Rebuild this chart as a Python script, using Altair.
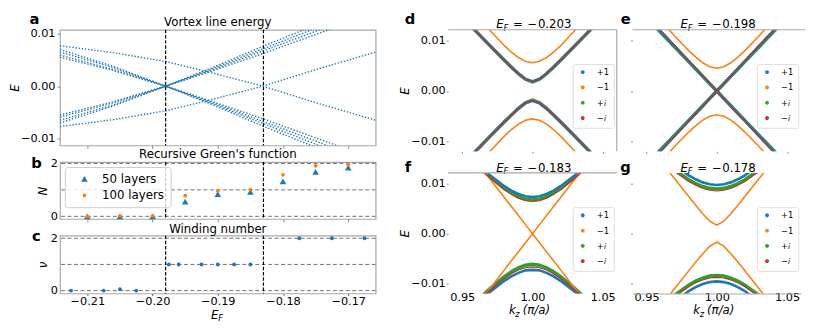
import altair as alt
import pandas as pd

BLUE, ORANGE, GREEN, RED = "#1f77b4", "#ff7f0e", "#2ca02c", "#d62728"
FRAME = "#a8a8a8"
FONT = "DejaVu Sans"
MINUS = "replace(datum.label, '-', '\u2212')"

# ---------------- panels a-c : shared E_F axis ----------------
EF_DOMAIN = [-0.2142, -0.1658]
EF_TICKS = [-0.21, -0.20, -0.19, -0.18, -0.17]
VLINES = [-0.198, -0.183]
HLINES = [0, 1, 2]

# a: vortex line energies, E read at these E_F positions
EF_A = [-0.2142, -0.2061, -0.198, -0.1911, -0.1831, -0.1751, -0.1658]
A_S1 = [0.0077, 0.0064, 0.0047, 0.0026, 0.0000, -0.0031, -0.0065]
A_S2 = [-0.0077, -0.0064, -0.0047, -0.0026, 0.0000, 0.0031, 0.0065]
A_D1 = [0.0070, 0.0038, 0.0, -0.0034, -0.0076, -0.0116, -0.0168]
A_D2 = [0.0065, 0.0036, 0.0, -0.0032, -0.0071, -0.0110, -0.0158]
A_D3 = [0.0059, 0.0032, 0.0, -0.0030, -0.0067, -0.0104, -0.0149]
A_D4 = [0.0055, 0.0030, 0.0, -0.0028, -0.0062, -0.0098, -0.0140]
A_U1 = [-0.0070, -0.0038, 0.0, 0.0034, 0.0076, 0.0116, 0.0168]
A_U2 = [-0.0065, -0.0036, 0.0, 0.0032, 0.0071, 0.0110, 0.0158]
A_U3 = [-0.0059, -0.0032, 0.0, 0.0030, 0.0067, 0.0104, 0.0149]
A_U4 = [-0.0055, -0.0030, 0.0, 0.0028, 0.0062, 0.0098, 0.0140]
A_LINES = {"s1": A_S1, "s2": A_S2, "d1": A_D1, "d2": A_D2, "d3": A_D3, "d4": A_D4,
           "u1": A_U1, "u2": A_U2, "u3": A_U3, "u4": A_U4}

# b: recursive Green's function
EF_B = [-0.21, -0.205, -0.20, -0.195, -0.19, -0.185, -0.18, -0.175, -0.17]
N_50 = [0.0, 0.0, 0.0, 0.56, 0.84, 0.92, 1.32, 1.68, 1.84]
N_100 = [0.0, 0.02, 0.02, 0.78, 0.96, 1.01, 1.57, 1.91, 1.96]

# c: winding number
EF_C = [-0.2125, -0.2075, -0.205, -0.2025, -0.1975, -0.196, -0.1925, -0.19,
        -0.1875, -0.185, -0.1775, -0.1725, -0.1675]
NU = [0, 0, 0.05, 0, 1, 1, 1, 1, 1, 1, 2, 2, 2]

# ---------------- panels d-g : bands near k_z = pi/a (E in units of 1e-3) ----------------
K = [0.94, 0.96, 0.97, 0.98, 0.985, 0.99, 0.995, 1.0, 1.005, 1.01, 1.015, 1.02, 1.03, 1.04, 1.06]
SERIES = ["+1", "\u22121", "+\U0001D456", "\u2212\U0001D456"]
COLORS = [BLUE, ORANGE, GREEN, RED]
WIDTHS = {SERIES[0]: 2.7, SERIES[1]: 1.6, SERIES[2]: 3.5, SERIES[3]: 1.1}
DRAW_ORDER = [SERIES[2], SERIES[0], SERIES[1], SERIES[3]]

D_BLUE_UP = [17.50, 11.75, 8.91, 6.10, 4.75, 3.47, 2.39, 1.90, 2.39, 3.47, 4.75, 6.10, 8.91, 11.75, 17.50]
D_BLUE_DN = [-17.50, -11.75, -8.91, -6.10, -4.75, -3.47, -2.39, -1.90, -2.39, -3.47, -4.75, -6.10, -8.91, -11.75, -17.50]
D_ORANGE_UP = [21.73, 15.08, 11.90, 8.96, 7.68, 6.60, 5.87, 5.60, 5.87, 6.60, 7.68, 8.96, 11.90, 15.08, 21.73]
D_ORANGE_DN = [-21.71, -15.04, -11.85, -8.90, -7.60, -6.52, -5.77, -5.50, -5.77, -6.52, -7.60, -8.90, -11.85, -15.04, -21.71]
D_GREEN_UP = [17.49, 11.74, 8.88, 6.07, 4.71, 3.41, 2.31, 1.80, 2.31, 3.41, 4.71, 6.07, 8.88, 11.74, 17.49]
D_GREEN_DN = [-17.49, -11.74, -8.88, -6.07, -4.71, -3.41, -2.31, -1.80, -2.31, -3.41, -4.71, -6.07, -8.88, -11.74, -17.49]
D_RED_UP = [17.50, 11.75, 8.89, 6.09, 4.73, 3.44, 2.35, 1.85, 2.35, 3.44, 4.73, 6.09, 8.89, 11.75, 17.50]
D_RED_DN = [-17.50, -11.75, -8.89, -6.09, -4.73, -3.44, -2.35, -1.85, -2.35, -3.44, -4.73, -6.09, -8.89, -11.75, -17.50]

E_BLUE_UP = [17.70, 11.80, 8.85, 5.90, 4.43, 2.95, 1.48, 0.00, 1.48, 2.95, 4.43, 5.90, 8.85, 11.80, 17.70]
E_BLUE_DN = [-17.70, -11.80, -8.85, -5.90, -4.43, -2.95, -1.48, 0.00, -1.48, -2.95, -4.43, -5.90, -8.85, -11.80, -17.70]
E_ORANGE_UP = [20.30, 13.95, 10.87, 7.99, 6.69, 5.58, 4.79, 4.50, 4.79, 5.58, 6.69, 7.99, 10.87, 13.95, 20.30]
E_ORANGE_DN = [-20.35, -14.01, -10.96, -8.10, -6.83, -5.74, -4.98, -4.70, -4.98, -5.74, -6.83, -8.10, -10.96, -14.01, -20.35]
E_GREEN_UP = [17.40, 11.60, 8.70, 5.80, 4.35, 2.90, 1.45, 0.00, 1.45, 2.90, 4.35, 5.80, 8.70, 11.60, 17.40]
E_GREEN_DN = [-17.40, -11.60, -8.70, -5.80, -4.35, -2.90, -1.45, 0.00, -1.45, -2.90, -4.35, -5.80, -8.70, -11.60, -17.40]
E_RED_UP = [18.00, 12.00, 9.00, 6.00, 4.50, 3.00, 1.50, 0.00, 1.50, 3.00, 4.50, 6.00, 9.00, 12.00, 18.00]
E_RED_DN = [-18.00, -12.00, -9.00, -6.00, -4.50, -3.00, -1.50, 0.00, -1.50, -3.00, -4.50, -6.00, -9.00, -12.00, -18.00]

F_BLUE_UP = [19.42, 14.05, 11.59, 9.45, 8.58, 7.89, 7.45, 7.30, 7.45, 7.89, 8.58, 9.45, 11.59, 14.05, 19.42]
F_BLUE_DN = [-19.39, -13.99, -11.53, -9.37, -8.49, -7.80, -7.29, -7.20, -7.29, -7.80, -8.49, -9.37, -11.53, -13.99, -19.39]
F_ORANGE_UP = [21.60, 14.40, 10.80, 7.20, 5.40, 3.60, 1.80, 0.00, 1.80, 3.60, 5.40, 7.20, 10.80, 14.40, 21.60]
F_ORANGE_DN = [-21.60, -14.40, -10.80, -7.20, -5.40, -3.60, -1.80, 0.00, -1.80, -3.60, -5.40, -7.20, -10.80, -14.40, -21.60]
F_GREEN_UP = [19.21, 13.74, 11.22, 8.99, 8.07, 7.34, 6.87, 6.70, 6.87, 7.34, 8.07, 8.99, 11.22, 13.74, 19.21]
F_GREEN_DN = [-19.01, -13.46, -10.87, -8.56, -7.58, -6.80, -6.28, -6.10, -6.28, -6.80, -7.58, -8.56, -10.87, -13.46, -19.01]
F_RED_UP = [19.10, 13.60, 11.04, 8.77, 7.82, 7.07, 6.57, 6.40, 6.57, 7.07, 7.82, 8.77, 11.04, 13.60, 19.10]
F_RED_DN = [-19.17, -13.70, -11.16, -8.92, -7.99, -7.25, -6.77, -6.60, -6.77, -7.25, -7.99, -8.92, -11.16, -13.70, -19.17]

G_BLUE_UP = [21.51, 16.06, 13.65, 11.62, 10.82, 10.21, 9.83, 9.70, 9.83, 10.21, 10.82, 11.62, 13.65, 16.06, 21.51]
G_BLUE_DN = [-21.42, -15.94, -13.51, -11.45, -10.64, -10.02, -9.63, -9.50, -9.63, -10.02, -10.64, -11.45, -13.51, -15.94, -21.42]
G_ORANGE_UP = [21.67, 14.50, 10.93, 7.40, 5.66, 3.98, 2.48, 1.70, 2.48, 3.98, 5.66, 7.40, 10.93, 14.50, 21.67]
G_ORANGE_DN = [-21.67, -14.50, -10.93, -7.40, -5.66, -3.98, -2.48, -1.70, -2.48, -3.98, -5.66, -7.40, -10.93, -14.50, -21.67]
G_GREEN_UP = [20.08, 14.94, 12.66, 10.73, 9.97, 9.39, 9.03, 8.90, 9.03, 9.39, 9.97, 10.73, 12.66, 14.94, 20.08]
G_GREEN_DN = [-19.82, -14.59, -12.24, -10.24, -9.44, -8.83, -8.43, -8.30, -8.43, -8.83, -9.44, -10.24, -12.24, -14.59, -19.82]
G_RED_UP = [19.91, 14.71, 12.38, 10.40, 9.62, 9.01, 8.63, 8.50, 8.63, 9.01, 9.62, 10.40, 12.38, 14.71, 19.91]
G_RED_DN = [-19.99, -14.82, -12.52, -10.57, -9.79, -9.20, -8.83, -8.70, -8.83, -9.20, -9.79, -10.57, -12.52, -14.82, -19.99]

PANELS = {
    "d": ("0.203", [D_BLUE_UP, D_BLUE_DN, D_ORANGE_UP, D_ORANGE_DN, D_GREEN_UP, D_GREEN_DN, D_RED_UP, D_RED_DN]),
    "e": ("0.198", [E_BLUE_UP, E_BLUE_DN, E_ORANGE_UP, E_ORANGE_DN, E_GREEN_UP, E_GREEN_DN, E_RED_UP, E_RED_DN]),
    "f": ("0.183", [F_BLUE_UP, F_BLUE_DN, F_ORANGE_UP, F_ORANGE_DN, F_GREEN_UP, F_GREEN_DN, F_RED_UP, F_RED_DN]),
    "g": ("0.178", [G_BLUE_UP, G_BLUE_DN, G_ORANGE_UP, G_ORANGE_DN, G_GREEN_UP, G_GREEN_DN, G_RED_UP, G_RED_DN]),
}
K_DOMAIN = [0.94, 1.06]
K_TICKS = [0.95, 1.00, 1.05]
E_DOMAIN_R = [-0.0119, 0.0121]


# ---------------- helpers ----------------
def one():
    return pd.DataFrame({"t": [0]})


def txt(s, x, y, size=12, italic=False, bold=False, align="left"):
    return alt.Chart(one()).mark_text(
        text=s, font=FONT, fontSize=size, color="black", align=align, baseline="alphabetic",
        fontStyle="italic" if italic else "normal", fontWeight="bold" if bold else "normal",
    ).encode(x=alt.value(x), y=alt.value(y))


def spine_h(x1, x2, y):
    return alt.Chart(one()).mark_rule(color=FRAME, strokeWidth=1.2).encode(
        x=alt.value(x1), x2=alt.value(x2), y=alt.value(y))


def spine_v(x, y1, y2):
    return alt.Chart(one()).mark_rule(color=FRAME, strokeWidth=1.2).encode(
        x=alt.value(x), y=alt.value(y1), y2=alt.value(y2))


def ef_x(labels):
    if labels:
        ax = alt.Axis(values=EF_TICKS, format=".2f", labelExpr=MINUS, title=None, domain=False,
                      tickSize=2, tickColor="#666", labelPadding=0, labelFontSize=11.5, grid=False)
    else:
        ax = alt.Axis(values=EF_TICKS, labels=False, title=None, domain=False,
                      tickSize=3, tickColor="#888", grid=False)
    return alt.X("ef:Q", scale=alt.Scale(domain=EF_DOMAIN, nice=False, zero=False), axis=ax)


def vrules():
    return alt.Chart(pd.DataFrame({"ef": VLINES})).mark_rule(
        color="black", strokeDash=[3.5, 1.8], strokeWidth=1.2).encode(x="ef:Q")


LEFT_W = 322
FRAME_VIEW = alt.ViewBackground(stroke=FRAME, strokeWidth=1.2)

# ---------------- panel a ----------------
df_a = pd.DataFrame([{"ef": x, "E": v, "line": n} for n, vals in A_LINES.items() for x, v in zip(EF_A, vals)])
H_A = 118
lines_a = alt.Chart(df_a).mark_line(color=BLUE, strokeWidth=1.4, strokeDash=[1.4, 1.8], clip=True).encode(
    x=ef_x(False),
    y=alt.Y("E:Q", scale=alt.Scale(domain=[-0.0113, 0.01075], nice=False, zero=False),
            axis=alt.Axis(values=[-0.01, 0, 0.01], format=".2f", labelExpr=MINUS, domain=False,
                          tickSize=3, tickColor="#888", labelPadding=2, labelFontSize=11.5, grid=False,
                          title="E", titleFontStyle="italic", titleFontWeight="normal", titleFontSize=12,
                          titleX=-46, titleY=H_A / 2, titleAngle=270, titleBaseline="middle", titleAlign="center")),
    detail="line:N",
)
panel_a = alt.layer(
    lines_a, vrules(),
    txt("a", -26, -5.5, 15, bold=True, align="center"),
    txt("Vortex line energy", LEFT_W / 2, -4, 12, align="center"),
).properties(width=LEFT_W, height=H_A, view=FRAME_VIEW)

# ---------------- panel b ----------------
H_B = 58
B_NAMES = ["50 layers", "100 layers"]
df_b = pd.DataFrame([{"ef": x, "N": v, "series": B_NAMES[0]} for x, v in zip(EF_B, N_50)] +
                    [{"ef": x, "N": v, "series": B_NAMES[1]} for x, v in zip(EF_B, N_100)])
leg_b = alt.Legend(title=None, orient="top-left", offset=5, fillColor="rgba(255,255,255,0.8)",
                   strokeColor="#cccccc", cornerRadius=3, padding=6, labelFont=FONT, labelFontSize=12,
                   labelColor="black", symbolOffset=8, labelOffset=12, rowPadding=5)
y_b = alt.Y("N:Q", scale=alt.Scale(domain=[-0.1, 2.05], nice=False, zero=False),
            axis=alt.Axis(values=[0, 1, 2], format="d", domain=False, tickSize=0, labelPadding=2.5,
                          labelFontSize=11.5, grid=False, title="N", titleFontStyle="italic",
                          titleFontWeight="normal", titleFontSize=12, titleX=-18, titleY=H_B / 2,
                          titleAngle=270, titleBaseline="middle", titleAlign="center"))
grid_b = alt.Chart(pd.DataFrame({"N": HLINES})).mark_rule(color="#707070", strokeDash=[4, 2.6], strokeWidth=1).encode(y="N:Q")
pts_b = alt.Chart(df_b).mark_point(filled=True, opacity=1, strokeWidth=0).encode(
    x=ef_x(False), y=y_b,
    color=alt.Color("series:N", scale=alt.Scale(domain=B_NAMES, range=[BLUE, ORANGE]), legend=leg_b),
    shape=alt.Shape("series:N", scale=alt.Scale(domain=B_NAMES, range=["triangle-up", "circle"]), legend=leg_b),
    size=alt.Size("series:N", scale=alt.Scale(domain=B_NAMES, range=[46, 15]), legend=leg_b),
)
panel_b = alt.layer(
    grid_b, vrules(), pts_b,
    txt("b", -24, 6.3, 15, bold=True, align="center"),
    txt("Recursive Green's function", LEFT_W / 2, -4.3, 12, align="center"),
).properties(width=LEFT_W, height=H_B, view=FRAME_VIEW)

# ---------------- panel c ----------------
H_C = 59
df_c = pd.DataFrame({"ef": EF_C, "N": NU})
y_c = alt.Y("N:Q", scale=alt.Scale(domain=[-0.11, 2.1], nice=False, zero=False),
            axis=alt.Axis(values=[0, 1, 2], format="d", domain=False, tickSize=0, labelPadding=2.5,
                          labelFontSize=11.5, grid=False, title="\u03bd", titleFontStyle="italic",
                          titleFontWeight="normal", titleFontSize=12, titleX=-18, titleY=H_C / 2,
                          titleAngle=270, titleBaseline="middle", titleAlign="center"))
grid_c = alt.Chart(pd.DataFrame({"N": HLINES})).mark_rule(color="#707070", strokeDash=[4, 2.6], strokeWidth=1).encode(y="N:Q")
pts_c = alt.Chart(df_c).mark_circle(color=BLUE, size=16, opacity=1).encode(x=ef_x(True), y=y_c)
panel_c = alt.layer(
    grid_c, vrules(), pts_c,
    txt("c", -24, 5.3, 15, bold=True, align="center"),
    txt("Winding number", LEFT_W / 2, -3, 12, align="center"),
    txt("E", 154, 85, 12, italic=True), txt("F", 161.5, 87.5, 8.5, italic=True),
).properties(width=LEFT_W, height=H_C, view=FRAME_VIEW)

# ---------------- panels d-g ----------------
RW = 172


def band_panel(key, height, xlabels, ylabels, letter_xy, title_y, spines, x_domain_line=False):
    val, curves = PANELS[key]
    names = [SERIES[0], SERIES[0], SERIES[1], SERIES[1], SERIES[2], SERIES[2], SERIES[3], SERIES[3]]
    brs = ["up", "dn"] * 4
    rows = []
    for ser, br, vals in zip(names, brs, curves):
        rows += [{"k": k, "E": v / 1000.0, "s": ser, "br": ser + br} for k, v in zip(K, vals)]
    df = pd.DataFrame(rows)
    if xlabels:
        xax = alt.Axis(values=K_TICKS, format=".2f", title=None, domain=x_domain_line, domainColor=FRAME,
                       domainWidth=1.2, tickSize=0, labelPadding=-2, labelFontSize=11.5, grid=False)
    else:
        xax = alt.Axis(values=K_TICKS, labels=False, title=None, domain=False, tickSize=2,
                       tickColor="#888", grid=False)
    if ylabels:
        yax = alt.Axis(values=[-0.01, 0, 0.01], format=".2f", labelExpr=MINUS, domain=False, tickSize=2,
                       tickColor="#888", labelPadding=1, labelFontSize=11.5, grid=False,
                       title="E", titleFontStyle="italic", titleFontWeight="normal", titleFontSize=12,
                       titleX=-44, titleY=height / 2, titleAngle=270, titleBaseline="middle", titleAlign="center")
    else:
        yax = alt.Axis(values=[-0.01, 0, 0.01], labels=False, title=None, domain=False, tickSize=2,
                       tickColor="#888", grid=False)
    leg = alt.Legend(title=None, orient="none", legendX=127, legendY=35, fillColor="rgba(255,255,255,0.85)",
                     strokeColor="#dddddd", cornerRadius=2, padding=4, labelFont=FONT, labelFontSize=8.5,
                     labelColor="black", symbolType="circle", symbolSize=3, symbolStrokeWidth=2.2,
                     symbolOffset=2, labelOffset=10, rowPadding=3.6)
    layers = []
    for ser in DRAW_ORDER:
        layers.append(alt.Chart(df[df.s == ser]).mark_line(clip=True, strokeWidth=WIDTHS[ser]).encode(
            x=alt.X("k:Q", scale=alt.Scale(domain=K_DOMAIN, nice=False, zero=False), axis=xax),
            y=alt.Y("E:Q", scale=alt.Scale(domain=E_DOMAIN_R, nice=False, zero=False), axis=yax),
            color=alt.Color("s:N", scale=alt.Scale(domain=SERIES, range=COLORS), legend=leg),
            detail="br:N",
        ))
    cx = RW / 2
    layers += [
        txt(key, letter_xy[0], letter_xy[1], 15, bold=True, align="center"),
        txt("E", cx - 37, title_y, 12, italic=True),
        txt("F", cx - 29.5, title_y + 2.5, 8.5, italic=True),
        txt("=", cx - 20, title_y, 12),
        txt("\u2212", cx - 5, title_y, 12),
        txt(val, cx + 5.5, title_y, 12),
    ]
    for sp in spines:
        if sp == "top":
            layers.append(spine_h(0, RW + (4 if key == "e" else 0), 0))
        elif sp == "right":
            layers.append(spine_v(RW, 0, height))
    if xlabels:
        layers += [txt("k", 62, height + 21, 12, italic=True), txt("z", 68.5, height + 23.5, 8.5, italic=True),
                   txt("(\u03c0/a)", 76, height + 21, 12, italic=True)]
    return alt.layer(*layers).properties(width=RW, height=height)


H_D = 124
H_F = 123
panel_d = band_panel("d", H_D, False, True, (-39, -6), -1.5, ["top", "right"])
panel_e = band_panel("e", H_D, False, False, (-7, -6), -1.5, ["top"])
panel_f = band_panel("f", H_F, True, True, (-41, -0.7), -1, ["top"])
panel_g = band_panel("g", H_F, True, False, (-7, -1), -1, [], x_domain_line=True)

IND = dict(color="independent", shape="independent", size="independent")
left = alt.vconcat(panel_a, panel_b, panel_c, spacing=17, bounds="flush").resolve_scale(**IND)
right = alt.concat(panel_d, panel_e, panel_f, panel_g, columns=2, spacing={"row": 22, "column": 16},
                   bounds="flush").resolve_scale(**IND)

chart = alt.hconcat(left, right, spacing=22).resolve_scale(**IND).properties(
    padding={"left": 0, "top": 0, "right": 0, "bottom": 0}
).configure(font=FONT).configure_view(stroke=None).configure_axis(
    labelFont=FONT, titleFont=FONT, labelColor="black", titleColor="black"
).configure_legend(labelFont=FONT)

chart.save("out.html", embed_options={"renderer": "svg", "actions": False})
